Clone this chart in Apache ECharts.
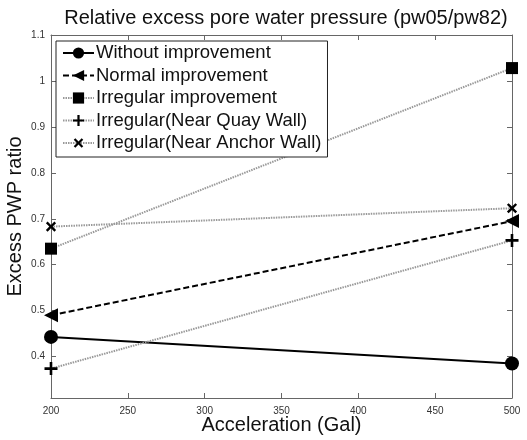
<!DOCTYPE html>
<html>
<head>
<meta charset="utf-8">
<script src="https://cdn.jsdelivr.net/npm/echarts@6/dist/echarts.min.js"></script>
<style type="text/css">
    html, body { margin: 0; padding: 0; background: #fff; }
    #chart { width: 527px; height: 440px; }
</style>
</head>
<body>
<div id="chart"></div>
<script type="text/javascript">
    // acceleration values (Gal)
    var accel = [200, 500];
    // excess PWP ratio per case
    var withoutImp = [0.443, 0.385];
    var normalImp = [0.49, 0.695];
    var irregularImp = [0.635, 1.028];
    var nearQuay = [0.374, 0.653];
    var nearAnchor = [0.683, 0.723];
    var yTicks = [0.4, 0.5, 0.6, 0.7, 0.8, 0.9, 1, 1.1];
    var xTicks = [200, 250, 300, 350, 400, 450, 500];

    var plusPath = 'path://M4,0h2v4h4v2h-4v4h-2v-4h-4v-2h4z';

    function pairs(ys) {
        return accel.map(function (x, i) { return [x, ys[i]]; });
    }

    var chart = echarts.init(document.getElementById('chart'));
    var axisColor = '#666';
    var labelStyle = { color: '#333', fontSize: 10, fontFamily: 'Liberation Sans' };

    chart.setOption({
        animation: false,
        title: {
            text: 'Relative excess pore water pressure (pw05/pw82)',
            left: 281, top: 3, textAlign: 'center',
            textStyle: { fontSize: 20, fontWeight: 'normal', color: '#111', fontFamily: 'Liberation Sans' }
        },
        legend: {
            left: 56, top: 41, orient: 'vertical',
            itemWidth: 31, itemHeight: 14, itemGap: 2.5,
            backgroundColor: '#fff', borderColor: '#222', borderWidth: 1,
            padding: [2, 6, 4, 6], borderRadius: 0,
            textStyle: { fontSize: 18.5, lineHeight: 20, color: '#111', fontFamily: 'Liberation Sans', padding: [0, 0, 0, -3] },
            data: ['Without improvement', 'Normal improvement', 'Irregular improvement',
                'Irregular(Near Quay Wall)', 'Irregular(Near Anchor Wall)']
        },
        grid: { left: 51, right: 15, top: 35, bottom: 42, outerBoundsMode: 'none', containLabel: false },
        xAxis: [{
            type: 'value', min: 200, max: 500, interval: 50,
            name: 'Acceleration (Gal)', nameLocation: 'middle', nameGap: 17, nameMoveOverlap: false,
            nameTextStyle: { fontSize: 20, color: '#111', fontFamily: 'Liberation Sans' },
            axisLine: { lineStyle: { color: axisColor } },
            axisTick: { inside: true, length: 5, lineStyle: { color: axisColor } },
            axisLabel: Object.assign({ customValues: xTicks, margin: 8 }, labelStyle),
            splitLine: { show: false }
        }, {
            type: 'value', min: 200, max: 500, interval: 50, position: 'top',
            axisLine: { lineStyle: { color: axisColor } },
            axisTick: { inside: true, length: 5, lineStyle: { color: axisColor } },
            axisLabel: { show: false },
            splitLine: { show: false }
        }],
        yAxis: [{
            type: 'value', min: 0.31, max: 1.1,
            name: 'Excess PWP ratio', nameLocation: 'middle', nameGap: 26, nameMoveOverlap: false,
            nameTextStyle: { fontSize: 20, color: '#111', fontFamily: 'Liberation Sans' },
            axisLine: { show: true, lineStyle: { color: axisColor } },
            axisTick: { inside: true, length: 5, customValues: yTicks, lineStyle: { color: axisColor } },
            axisLabel: Object.assign({ customValues: yTicks, margin: 6, formatter: function (v) { return String(+v.toFixed(1)); } }, labelStyle),
            splitLine: { show: false }
        }, {
            type: 'value', min: 0.31, max: 1.1, position: 'right',
            axisLine: { show: true, lineStyle: { color: axisColor } },
            axisTick: { inside: true, length: 5, customValues: yTicks, lineStyle: { color: axisColor } },
            axisLabel: { show: false, customValues: yTicks },
            splitLine: { show: false }
        }],
        series: [{
            name: 'Without improvement', type: 'line', data: pairs(withoutImp),
            symbol: 'circle', symbolSize: 14,
            lineStyle: { color: '#000', width: 2, type: 'solid' },
            itemStyle: { color: '#000' }
        }, {
            name: 'Normal improvement', type: 'line', data: pairs(normalImp),
            symbol: 'triangle', symbolSize: 14, symbolRotate: 90,
            lineStyle: { color: '#000', width: 2, type: [6, 3] },
            itemStyle: { color: '#000' }
        }, {
            name: 'Irregular improvement', type: 'line', data: pairs(irregularImp),
            symbol: 'rect', symbolSize: 12,
            lineStyle: { color: '#999', width: 2, type: [1.5, 1] },
            itemStyle: { color: '#000' }
        }, {
            name: 'Irregular(Near Quay Wall)', type: 'line', data: pairs(nearQuay),
            symbol: plusPath, symbolSize: 13,
            lineStyle: { color: '#999', width: 2, type: [1.5, 1] },
            itemStyle: { color: '#000' }
        }, {
            name: 'Irregular(Near Anchor Wall)', type: 'line', data: pairs(nearAnchor),
            symbol: plusPath, symbolSize: 12, symbolRotate: 45,
            lineStyle: { color: '#999', width: 2, type: [1.5, 1] },
            itemStyle: { color: '#000' }
        }]
    });
</script>
</body>
</html>
